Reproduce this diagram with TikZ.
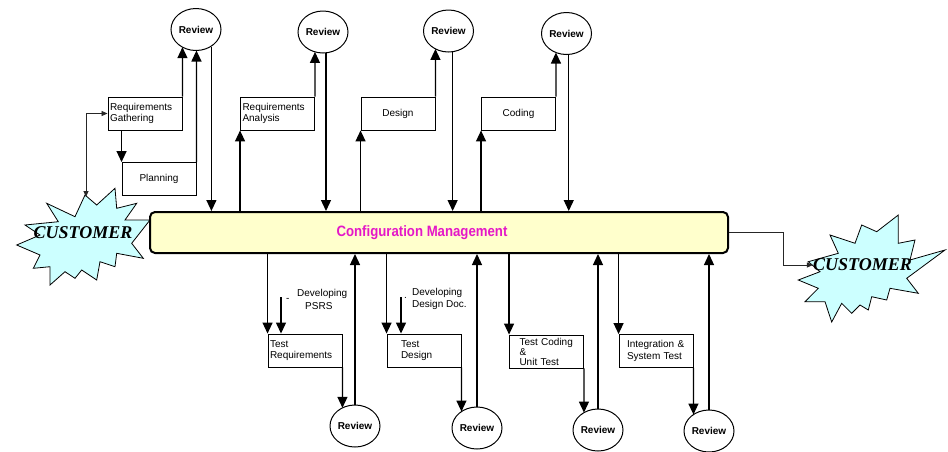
\documentclass[tikz,border=0pt]{standalone}
\usepackage{fontspec}
\setmainfont{Liberation Sans}
\newfontfamily\custfont{Liberation Serif}
\newfontfamily\barfont{Liberation Sans}[FakeStretch=0.88]
\usetikzlibrary{arrows.meta,shapes.geometric,intersections,calc}

\definecolor{cmfill}{RGB}{255,255,204}
\definecolor{cmtext}{RGB}{228,24,200}
\definecolor{starfill}{RGB}{204,255,255}

% vertical arrow from a point up/down to the rim of an ellipse node
\newcommand\hitell[3]{%
  \path[name path=probe] (#1) -- (#1 |- #2.center);
  \draw[arr, name intersections={of=probe and #3}] (#1) -- (intersection-1);}

\begin{document}
\begin{tikzpicture}[x=1pt,y=-1pt,
  arr/.style={line width=1.3pt, -{Triangle[length=11pt,width=10pt]}},
  thinarr/.style={line width=0.8pt, draw=black!85, -{Triangle[length=6pt,width=5pt]}},
  rev/.style={draw, line width=1pt, ellipse, minimum width=50pt, minimum height=42pt,
    inner sep=0pt, fill=white, font=\bfseries\fontsize{10}{12}\selectfont},
  stage/.style={draw, line width=0.9pt, rectangle, minimum width=74pt, minimum height=33pt,
    inner xsep=2pt, inner ysep=0pt, text width=70pt, align=left,
    font=\fontsize{10}{11.5}\selectfont},
  burst/.style={draw, line width=0.8pt, fill=starfill, line join=miter},
  cust/.style={font=\custfont\bfseries\itshape\fontsize{18}{20}\selectfont, inner sep=0pt},
  note/.style={font=\fontsize{10}{12.5}\selectfont, align=left, inner sep=0pt, anchor=west}
]
\useasboundingbox (0,0) rectangle (948,451);

% customer starbursts
\draw[burst] (46.7,203.3) -- (58.3,221.7) -- (25,225) -- (40,235) -- (16.7,245)
  -- (40,255) -- (33.3,268.3) -- (50,266.7) -- (50,285) -- (65,271.7) -- (75,278.3)
  -- (81.7,270) -- (96.7,280) -- (100,261.7) -- (115,266.7) -- (116.7,253.3)
  -- (143.3,258.3) -- (131.7,243.3) -- (150,220) -- (125,220) -- (136.7,203.3)
  -- (116.7,208.3) -- (115,188.3) -- (96.7,205) -- (85,195) -- (75,216.7) -- cycle;
\draw[burst] (830,235) -- (838.3,253.3) -- (808.3,261.7) -- (820,271.7) -- (798.3,280)
  -- (818.3,288.3) -- (805,301.7) -- (825,301.7) -- (831.7,322) -- (841.7,303.3)
  -- (851.7,313.3) -- (860,305) -- (868.3,310) -- (871.7,296.7) -- (886.7,300)
  -- (890,288.3) -- (918.3,293.3) -- (906.7,278.3) -- (945,250) -- (910,260)
  -- (915,240) -- (898.3,243.3) -- (898.3,215) -- (876.7,231.7) -- (861.7,225)
  -- (855,243.3) -- cycle;

% central bar
\node[draw, line width=2pt, rounded corners=5pt, fill=cmfill, minimum width=578pt,
  minimum height=41pt] (cm) at (439,232.5) {};
\node[text=cmtext, font=\barfont\bfseries\fontsize{15}{17}\selectfont, inner sep=0pt]
  (cmlabel) at ([xshift=-17pt]cm.center) {Configuration Management};

\node[cust] (cs1) at (83,233) {CUSTOMER};
\node[cust] (cs2) at (862.5,265) {CUSTOMER};

% upper stages
\node[stage] (rg) at (145,113.5) {Requirements\\Gathering};
\node[stage, align=center] (pl) at (159,179) {Planning};
\node[stage] (ra) at (277.5,113.5) {Requirements\\Analysis};
\node[stage, align=center] (ds) at (398,113.5) {Design};
\node[stage, align=center] (cd) at (518.5,113.5) {Coding};

% lower stages
\node[stage] (tr) at (305,350.5) {Test\\Requirements};
\node[stage, inner xsep=14pt, text width=46pt] (td) at (424,350.5) {Test\\Design};
\node[stage, inner xsep=10pt, text width=54pt, font=\fontsize{10}{10}\selectfont]
  (tc) at (546.5,351.5) {Test Coding\\\&\\Unit Test};
\node[stage, inner xsep=8pt, text width=58pt] (ig) at (656,351) {Integration \&\\System Test};

% reviews
\node[rev, name path=e1] (rv1) at (196,29.5) {Review};
\node[rev, name path=e2] (rv2) at (323,32) {Review};
\node[rev, name path=e3] (rv3) at (448.5,31) {Review};
\node[rev, name path=e4] (rv4) at (566.5,33.5) {Review};
\node[rev, name path=e5] (rv5) at (355,426) {Review};
\node[rev, name path=e6] (rv6) at (477,428) {Review};
\node[rev, name path=e7] (rv7) at (598,430) {Review};
\node[rev, name path=e8] (rv8) at (709,431) {Review};

% upper flow
\draw[arr] (pl.north west |- rg.south) -- (pl.north west);
\hitell{rg.north east}{rv1}{e1}
\hitell{pl.north east}{rv1}{e1}
\draw[arr] (rv1.-48) -- (rv1.-48 |- cm.north);

\draw[arr] (ra.south west |- cm.north) -- (ra.south west);
\hitell{ra.north east}{rv2}{e2}
\draw[arr] (rv2.-82) -- (rv2.-82 |- cm.north);

\draw[arr] (ds.south west |- cm.north) -- (ds.south west);
\hitell{ds.north east}{rv3}{e3}
\draw[arr] (rv3.-79) -- (rv3.-79 |- cm.north);

\draw[arr] (cd.south west |- cm.north) -- (cd.south west);
\hitell{cd.north east}{rv4}{e4}
\draw[arr] (rv4.-84) -- (rv4.-84 |- cm.north);

% lower flow
\draw[arr] (tr.north west |- cm.south) -- (tr.north west);
\hitell{tr.south east}{rv5}{e5}
\draw[arr] (rv5.north) -- (rv5.north |- cm.south);

\draw[arr] (td.north west |- cm.south) -- (td.north west);
\hitell{td.south east}{rv6}{e6}
\draw[arr] (rv6.north) -- (rv6.north |- cm.south);

\draw[arr] (tc.north west |- cm.south) -- (tc.north west);
\hitell{tc.south east}{rv7}{e7}
\draw[arr] (rv7.north) -- (rv7.north |- cm.south);

\draw[arr] (ig.north west |- cm.south) -- (ig.north west);
\hitell{ig.south east}{rv8}{e8}
\draw[arr] (rv8.north) -- (rv8.north |- cm.south);

% document inputs
\coordinate (psrs) at (281,297);
\draw[arr] (psrs) -- (psrs |- tr.north);
\node[note] (dm1) at (286,300) {-};
\node[note, font=\fontsize{10}{13}\selectfont] (np) at (297,299.5) {Developing\\\hspace*{8pt}PSRS};
\coordinate (ddoc) at (401,297);
\draw[arr] (ddoc) -- (ddoc |- td.north);
\node[note] (dm2) at (404,298) {.};
\node[note, font=\fontsize{10}{12}\selectfont] (nd) at (412,299) {Developing\\Design Doc.};

% customer links
\coordinate (cs1tip) at (86,197);
\draw[thinarr, {Triangle[length=6pt,width=5pt]}-{Triangle[length=6pt,width=5pt]}]
  (cs1tip) |- (rg.west);
\draw[thinarr] (cm.east) -- ++(54,0) |- (cs2.west);
\end{tikzpicture}
\end{document}
